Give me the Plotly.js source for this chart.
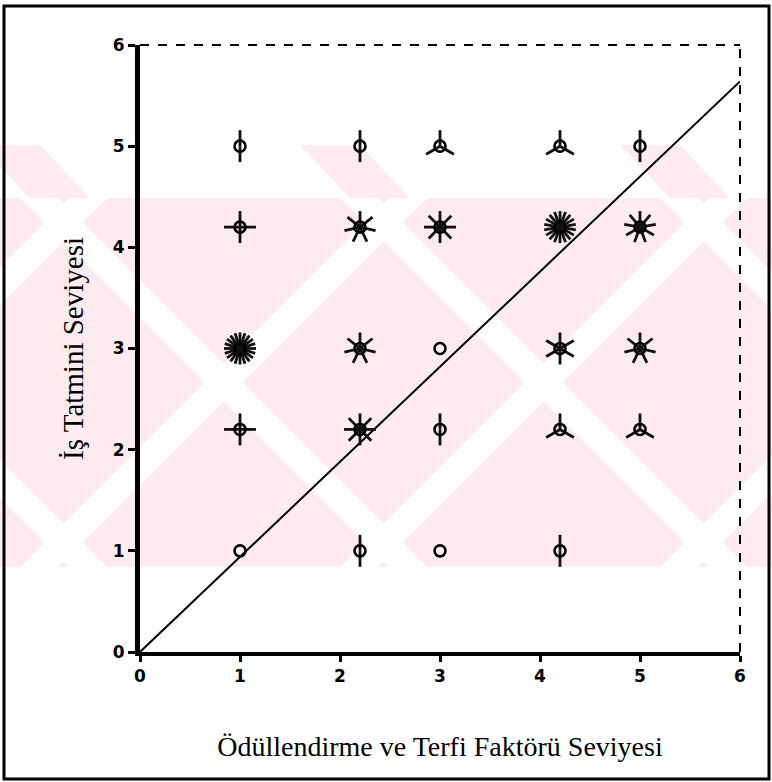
<!DOCTYPE html>
<html>
<head>
<meta charset="utf-8">
<script src="https://cdn.plot.ly/plotly-3.0.1.min.js"></script>
<style>html,body{margin:0;padding:0;background:#fff;}#chart{width:772px;height:782px;}</style>
</head>
<body>
<div id="chart"></div>
<script>
// Data: sunflower plot (each petal = one observation)
const ptX     = [1, 2.2, 3, 4.2, 5,   1, 2.2, 3, 4.2, 5,   1, 2.2, 3, 4.2, 5,   1, 2.2, 3, 4.2, 5,   1, 2.2, 3, 4.2];
const ptY     = [5, 5, 5, 5, 5,   4.2, 4.2, 4.2, 4.2, 4.2,   3, 3, 3, 3, 3,   2.2, 2.2, 2.2, 2.2, 2.2,   1, 1, 1, 1];
const ptCount = [2, 2, 3, 3, 2,   4, 7, 8, 18, 9,   20, 7, 1, 6, 7,   4, 8, 2, 3, 3,   1, 2, 1, 2];
const fitX = [0, 6];
const fitSlope = 0.94;
const tickVals = [0, 1, 2, 3, 4, 5, 6];
const tickText = ['0', '1', '2', '3', '4', '5', '6'];
const xTitle = 'Ödüllendirme ve Terfi Faktörü Seviyesi';
const yTitle = 'İş Tatmini Seviyesi';

// layout geometry
const W = 772, H = 782, mL = 140, mR = 32, mT = 45, mB = 130;
const pw = W - mL - mR, ph = H - mT - mB;
const xr = [0, 6], yr = [0, 6];
const xPerPx = (xr[1] - xr[0]) / pw, yPerPx = (yr[1] - yr[0]) / ph;
const petalPx = 16;

// petals
const px = [], py = [];
for (let i = 0; i < ptX.length; i++) {
  const n = ptCount[i];
  if (n < 2) continue;
  for (let k = 0; k < n; k++) {
    const a = Math.PI / 2 + k * 2 * Math.PI / n;
    px.push(ptX[i], ptX[i] + petalPx * Math.cos(a) * xPerPx, null);
    py.push(ptY[i], ptY[i] + petalPx * Math.sin(a) * yPerPx, null);
  }
}

const traces = [
  {x: fitX, y: fitX.map(v => v * fitSlope), mode: 'lines', line: {color: '#000', width: 2}, hoverinfo: 'skip'},
  {x: px, y: py, mode: 'lines', line: {color: '#111', width: 2.8}, hoverinfo: 'skip', connectgaps: false},
  {x: ptX, y: ptY, mode: 'markers', marker: {symbol: 'circle-open', size: 11, color: '#000', line: {color: '#000', width: 2.6}}, hoverinfo: 'skip'}
];

const toPX = p => (p - mL) / pw;
const toPY = p => (H - mB - p) / ph;

// faint pink watermark (decorative background)
const pink = '#fdebef';
const wm = [];
function poly(pts, col) {
  wm.push({type: 'path', xref: 'paper', yref: 'paper', layer: 'below', line: {width: 0}, fillcolor: col,
    path: 'M ' + pts.map(p => toPX(p[0]) + ' ' + toPY(p[1])).join(' L ') + ' Z'});
}
const wTop = 198, wBot = 567;
poly([[0, wTop], [772, wTop], [772, wBot], [0, wBot]], pink);
// white diagonal stripes forming the X pattern
const sw = 38, rise = wBot - wTop;
for (let c = -300; c < 1000; c += 320) {
  poly([[c + rise, wTop], [c + rise + sw, wTop], [c + sw, wBot], [c, wBot]], '#fff');
  poly([[c, wTop], [c + sw, wTop], [c + rise + sw, wBot], [c + rise, wBot]], '#fff');
}
// pink wedges above the band
for (let c = -20; c < 800; c += 320) {
  poly([[c, 145], [c + 60, 145], [c + 110, wTop], [c + 50, wTop]], pink);
}

const shapes = wm.concat([
  // dashed top and right frame
  {type: 'line', xref: 'paper', yref: 'paper', x0: 0, x1: 1, y0: 1, y1: 1, line: {color: '#000', width: 2, dash: 'dash'}},
  {type: 'line', xref: 'paper', yref: 'paper', x0: 1, x1: 1, y0: 0, y1: 1, line: {color: '#000', width: 2, dash: 'dash'}},
  // outer page frame
  {type: 'rect', xref: 'paper', yref: 'paper', x0: toPX(4), x1: toPX(769), y0: toPY(779), y1: toPY(6), line: {color: '#000', width: 3}}
]);

const layout = {
  width: W, height: H,
  margin: {l: mL, r: mR, t: mT, b: mB, pad: 0},
  paper_bgcolor: '#fff', plot_bgcolor: 'rgba(0,0,0,0)',
  showlegend: false,
  xaxis: {
    range: xr, tickvals: tickVals, ticktext: tickText, ticks: 'outside', ticklen: 6, tickwidth: 3, tickcolor: '#000',
    showline: true, linewidth: 4, linecolor: '#000', showgrid: false, zeroline: false,
    tickfont: {family: 'DejaVu Sans', size: 17, color: '#000', weight: 'bold'},
    title: {text: xTitle, font: {family: 'Liberation Serif', size: 28, color: '#000'}, standoff: 52},
    fixedrange: true
  },
  yaxis: {
    range: yr, tickvals: tickVals, ticktext: tickText, ticks: 'outside', ticklen: 7, tickwidth: 3, tickcolor: '#000',
    showline: true, linewidth: 5, linecolor: '#000', showgrid: false, zeroline: false,
    tickfont: {family: 'DejaVu Sans', size: 17, color: '#000', weight: 'bold'},
    title: {text: yTitle, font: {family: 'Liberation Serif', size: 29, color: '#000'}, standoff: 22},
    fixedrange: true
  },
  shapes: shapes
};

Plotly.newPlot('chart', traces, layout, {displayModeBar: false, staticPlot: true});
</script>
</body>
</html>
